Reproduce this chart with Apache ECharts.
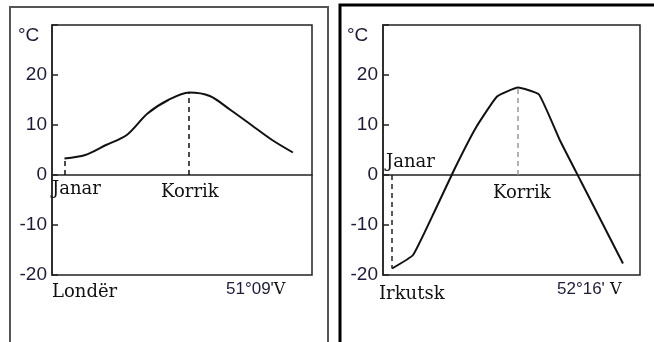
<!DOCTYPE html>
<html>
<head>
<meta charset="utf-8">
<script src="https://cdn.jsdelivr.net/npm/echarts@6/dist/echarts.min.js"></script>
<style>
  html, body { margin: 0; padding: 0; background: #fff; }
  #chart { width: 654px; height: 342px; }
</style>
</head>
<body>
<div id="chart"></div>
<script>
// muajt 1..12
var months = [1, 2, 3, 4, 5, 6, 7, 8, 9, 10, 11, 12];
var londonTemp = [3.3, 4, 6, 8, 12.3, 15, 16.5, 15.8, 13, 10, 7, 4.5];
var irkutskTemp = [-18.7, -16, -7.5, 1.4, 9.5, 15.7, 17.5, 16.1, 6.9, -1.3, -9.5, -17.7];
var yTicks = [-20, -10, 0, 10, 20];
var cities = ['Londër', 'Irkutsk'];
var coords = [['51°09\'', 'V'], ['52°16\'', ' V']];

var chart = echarts.init(document.getElementById('chart'));

var numColor = '#1c1c3a';
var serif = '"DejaVu Serif", "Liberation Serif", serif';
var sans = '"Liberation Sans", Arial, sans-serif';

function pairs(vals) {
  return months.map(function(m, i) { return [m, vals[i]]; });
}

function yAxis(idx) {
  return {
    gridIndex: idx,
    type: 'value',
    min: -20,
    max: 30,
    interval: 10,
    axisLine: { show: true, lineStyle: { color: '#222', width: 1.5 } },
    axisTick: { show: true, inside: true, length: 6, lineStyle: { color: '#222', width: 1.5 } },
    splitLine: { show: false },
    axisLabel: {
      margin: 5,
      color: numColor,
      fontFamily: sans,
      fontSize: 19,
      formatter: function(v) { return yTicks.indexOf(v) >= 0 ? String(v) : ''; }
    }
  };
}

function xAxis(idx, min, max) {
  return {
    gridIndex: idx,
    type: 'value',
    min: min,
    max: max,
    axisLine: { show: true, onZero: true, lineStyle: { color: '#222', width: 1.5 } },
    axisTick: { show: false },
    axisLabel: { show: false },
    splitLine: { show: false }
  };
}

// vija me ndërprerje nga 0 deri te vlera e muajit
function dashed(i, vals, color) {
  return [
    { coord: [months[i], 0], lineStyle: { color: color, type: [5, 4], width: 1.5 } },
    { coord: [months[i], vals[i]] }
  ];
}

var option = {
  animation: false,
  grid: [
    { left: 52, top: 25, width: 260, height: 250, show: true, borderColor: '#222', borderWidth: 1.5, backgroundColor: 'transparent' },
    { left: 383, top: 25, width: 257, height: 250, show: true, borderColor: '#222', borderWidth: 1.5, backgroundColor: 'transparent' }
  ],
  xAxis: [xAxis(0, 0.4, 12.92), xAxis(1, 0.57, 12.81)],
  yAxis: [yAxis(0), yAxis(1)],
  series: [
    {
      type: 'line',
      xAxisIndex: 0,
      yAxisIndex: 0,
      data: pairs(londonTemp),
      smooth: 0.3,
      showSymbol: false,
      lineStyle: { color: '#111', width: 2 },
      markLine: {
        silent: true,
        symbol: 'none',
        label: { show: false },
        data: [dashed(0, londonTemp, '#111'), dashed(6, londonTemp, '#111')]
      }
    },
    {
      type: 'line',
      xAxisIndex: 1,
      yAxisIndex: 1,
      data: pairs(irkutskTemp),
      smooth: 0.12,
      showSymbol: false,
      lineStyle: { color: '#111', width: 2 },
      markLine: {
        silent: true,
        symbol: 'none',
        label: { show: false },
        data: [dashed(0, irkutskTemp, '#222'), dashed(6, irkutskTemp, '#999')]
      }
    }
  ],
  graphic: [
    { type: 'rect', shape: { x: 10, y: 7, width: 318, height: 345 }, style: { fill: 'none', stroke: '#555', lineWidth: 2 }, z: 0 },
    { type: 'rect', shape: { x: 340, y: 5, width: 330, height: 350 }, style: { fill: 'none', stroke: '#000', lineWidth: 3 }, z: 0 },

    { type: 'text', left: 18, top: 26, style: { text: '°C', font: '19px ' + sans, fill: numColor } },
    { type: 'text', left: 347, top: 26, style: { text: '°C', font: '19px ' + sans, fill: numColor } },

    { type: 'text', left: 52, top: 180, style: { text: 'Janar', font: '18px ' + serif, fill: '#111' } },
    { type: 'text', left: 161, top: 183, style: { text: 'Korrik', font: '18px ' + serif, fill: '#111' } },
    { type: 'text', left: 52, top: 283, style: { text: cities[0], font: '18px ' + serif, fill: '#111' } },
    { type: 'text', left: 226, top: 281, style: {
        text: '{a|' + coords[0][0] + '}{b|' + coords[0][1] + '}',
        rich: { a: { fontFamily: sans, fontSize: 17, fill: numColor }, b: { fontFamily: serif, fontSize: 16, fill: '#111' } }
    } },

    { type: 'text', left: 386, top: 153, style: { text: 'Janar', font: '18px ' + serif, fill: '#111' } },
    { type: 'text', left: 493, top: 184, style: { text: 'Korrik', font: '18px ' + serif, fill: '#111' } },
    { type: 'text', left: 379, top: 285, style: { text: cities[1], font: '18px ' + serif, fill: '#111' } },
    { type: 'text', left: 557, top: 281, style: {
        text: '{a|' + coords[1][0] + '}{b|' + coords[1][1] + '}',
        rich: { a: { fontFamily: sans, fontSize: 17, fill: numColor }, b: { fontFamily: serif, fontSize: 16, fill: '#111' } }
    } }
  ]
};

chart.setOption(option);
</script>
</body>
</html>
